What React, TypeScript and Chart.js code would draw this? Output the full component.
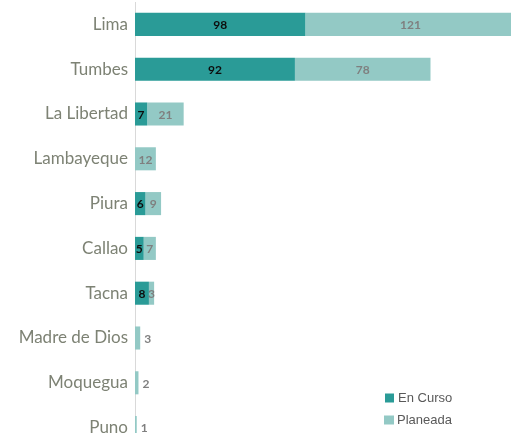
import React, { useEffect, useRef } from "react";
import { Chart, registerables } from "chart.js";
Chart.register(...registerables);

const categories = ["Lima", "Tumbes", "La Libertad", "Lambayeque", "Piura", "Callao", "Tacna", "Madre de Dios", "Moquegua", "Puno"];
const enCurso = [98, 92, 7, 0, 6, 5, 8, 0, 0, 0];
const planeada = [121, 78, 21, 12, 9, 7, 3, 3, 2, 1];
const seriesNames = ["En Curso", "Planeada"];
const seriesColors = ["#2a9b97", "#93c9c5"];
const labelColors = ["#0d0d0d", "#7f7f7f"];

const valueLabels = {
  id: "valueLabels",
  afterDatasetsDraw(chart: any) {
    const ctx = chart.ctx;
    ctx.save();
    ctx.font = "bold 12px Lato";
    ctx.textBaseline = "middle";
    chart.data.datasets.forEach((ds: any, di: number) => {
      const meta = chart.getDatasetMeta(di);
      meta.data.forEach((el: any, i: number) => {
        const v = ds.data[i];
        if (!v) return;
        const w = Math.abs(el.x - el.base);
        ctx.fillStyle = labelColors[di];
        if (di === 1 && !enCurso[i] && w < 10) {
          ctx.textAlign = "left";
          ctx.fillText(String(v), el.x + 4, el.y + 1);
        } else {
          ctx.textAlign = "center";
          ctx.fillText(String(v), (el.x + el.base) / 2, el.y + 1);
        }
      });
    });
    ctx.restore();
  },
};

const cornerLegend = {
  id: "cornerLegend",
  afterDraw(chart: any) {
    const ctx = chart.ctx;
    ctx.save();
    ctx.font = "13px 'Liberation Sans'";
    ctx.textBaseline = "middle";
    ctx.textAlign = "left";
    chart.data.datasets.forEach((ds: any, di: number) => {
      const y = 398 + di * 22;
      ctx.fillStyle = ds.backgroundColor;
      ctx.fillRect(385 - di, y - 4.5, 9 + di, 9);
      ctx.fillStyle = "#595959";
      ctx.fillText(ds.label, 398 - di, y);
    });
    ctx.restore();
  },
};

export default function App() {
  const ref = useRef<HTMLCanvasElement>(null);
  useEffect(() => {
    if (!ref.current) return;
    const chart = new Chart(ref.current, {
      type: "bar",
      data: {
        labels: categories,
        datasets: [
          { label: seriesNames[0], data: enCurso, backgroundColor: seriesColors[0], borderWidth: 0 },
          { label: seriesNames[1], data: planeada, backgroundColor: seriesColors[1], borderWidth: 0 },
        ],
      },
      options: {
        indexAxis: "y",
        responsive: false,
        animation: false,
        devicePixelRatio: 1,
        layout: { padding: { top: 2, right: 0, bottom: 0, left: 0 } },
        datasets: { bar: { categoryPercentage: 1, barPercentage: 0.515 } },
        plugins: { legend: { display: false }, tooltip: { enabled: false } },
        scales: {
          x: { display: false, stacked: true, min: 0, max: 233 },
          y: {
            stacked: true,
            afterFit: (s: any) => { s.width = 135; s.paddingTop = 0; s.paddingBottom = 0; },
            grid: { display: false, drawTicks: false },
            border: { display: true, color: "#d9d9d9", width: 1 },
            ticks: { padding: 7, color: "#7d8274", font: { family: "Lato", size: 17 } },
          },
        },
      },
      plugins: [valueLabels, cornerLegend],
    });
    return () => chart.destroy();
  }, []);
  return (
    <div style={{ position: "absolute", left: 0, top: 0, width: 511, height: 433, overflow: "hidden", background: "#fff" }}>
      <canvas ref={ref} width={540} height={450} style={{ display: "block", width: 540, height: 450 }} />
    </div>
  );
}
